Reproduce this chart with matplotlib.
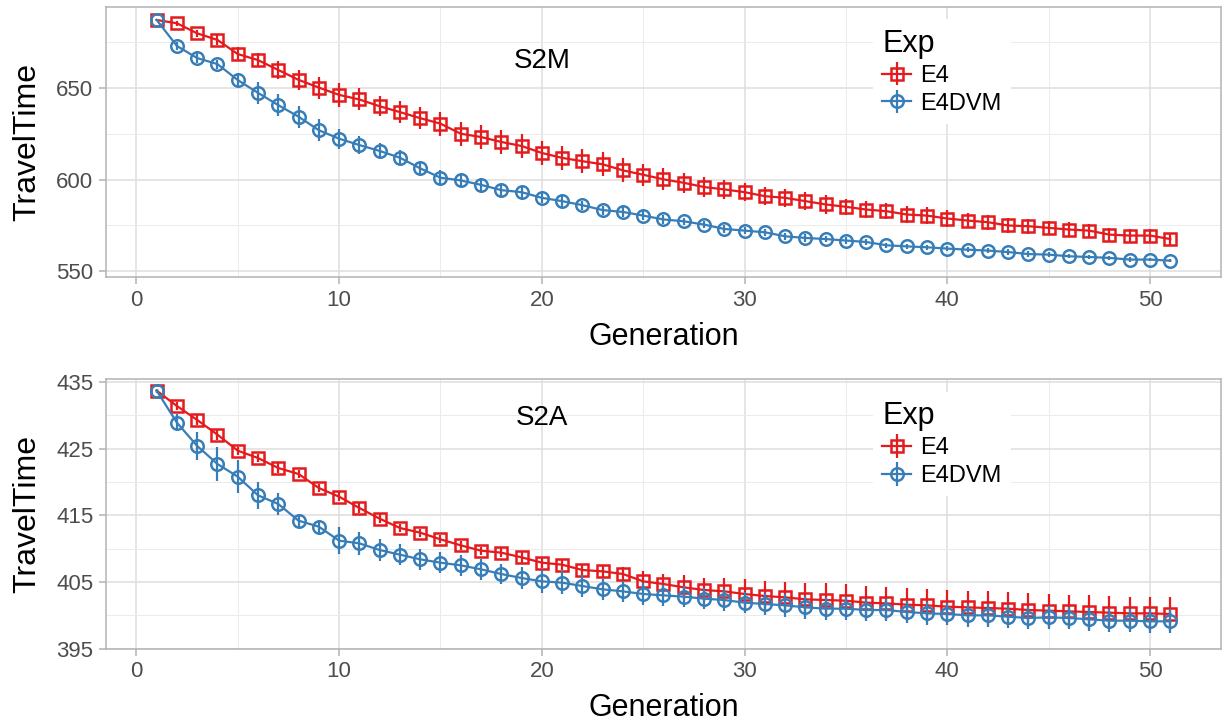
import numpy as np
import matplotlib.pyplot as plt
from matplotlib.ticker import MultipleLocator

plt.rcParams['font.family'] = ['Liberation Sans', 'DejaVu Sans']

gen = np.arange(1, 52)

# S2M panel
s2m_e4 = [687.2, 685.4, 679.9, 676.3, 668.6, 665.3, 659.9, 654.5, 650.3, 646.3,
          643.8, 640.1, 636.9, 633.6, 630.6, 625.1, 623.3, 620.6, 618.4, 614.6,
          611.9, 610.1, 608.4, 605.1, 602.7, 600.2, 598.3, 596.0, 594.7, 593.2,
          591.0, 590.1, 588.3, 586.5, 585.2, 583.7, 582.8, 581.0, 580.4, 578.8,
          577.7, 576.8, 575.0, 574.6, 573.7, 572.8, 572.2, 570.0, 569.5, 569.5, 567.6]
s2m_e4_err = [0.5, 1.5, 2.0, 2.5, 3.8, 4.0, 5.0, 5.5, 6.0, 6.4,
              6.0, 5.5, 6.0, 6.0, 6.5, 6.5, 6.5, 6.5, 6.5, 6.5,
              6.5, 6.5, 6.5, 6.5, 6.0, 6.0, 5.5, 5.5, 5.0, 5.0,
              5.0, 5.0, 5.0, 5.0, 4.5, 4.5, 4.5, 4.5, 4.5, 4.5,
              4.0, 4.0, 4.0, 4.0, 4.0, 4.0, 3.5, 3.5, 3.5, 3.5, 3.5]
s2m_dvm = [687.2, 673.0, 666.4, 663.1, 654.4, 647.4, 640.7, 634.4, 627.0, 622.4,
           618.9, 615.7, 612.0, 606.2, 601.1, 599.6, 597.2, 594.3, 593.2, 590.1,
           588.3, 586.1, 583.4, 582.4, 580.4, 578.3, 577.3, 575.5, 573.1, 572.2,
           571.3, 569.1, 568.2, 567.6, 566.8, 566.0, 564.2, 563.6, 563.1, 562.4,
           561.8, 561.3, 560.5, 559.4, 559.1, 558.2, 557.8, 557.3, 556.4, 556.4, 555.8]
s2m_dvm_err = [0.5, 2.0, 2.5, 2.5, 4.0, 6.0, 6.0, 6.0, 6.0, 5.5,
               5.0, 4.5, 4.0, 3.5, 4.0, 3.5, 3.5, 3.5, 3.5, 3.0,
               3.0, 2.5, 2.5, 2.5, 2.5, 2.5, 2.0, 2.0, 2.0, 2.0,
               2.0, 2.0, 2.0, 1.8, 1.8, 1.8, 1.5, 1.5, 1.5, 1.5,
               1.5, 1.5, 1.5, 1.5, 1.5, 1.2, 1.2, 1.2, 1.2, 1.0, 1.0]

# S2A panel
s2a_e4 = [433.7, 431.4, 429.3, 427.1, 424.7, 423.6, 422.1, 421.2, 419.1, 417.8,
          416.1, 414.5, 413.1, 412.4, 411.4, 410.5, 409.7, 409.4, 408.7, 407.9,
          407.6, 406.8, 406.6, 406.2, 405.1, 404.7, 404.2, 403.8, 403.6, 403.2,
          402.9, 402.7, 402.4, 402.3, 402.2, 401.9, 401.8, 401.6, 401.5, 401.3,
          401.2, 401.1, 401.0, 400.8, 400.7, 400.6, 400.5, 400.4, 400.3, 400.3, 400.2]
s2a_e4_err = [0.3, 0.6, 0.7, 0.8, 0.6, 0.6, 0.7, 0.6, 0.6, 0.7,
              0.7, 0.7, 0.6, 0.6, 0.6, 0.7, 0.6, 0.7, 0.8, 0.8,
              0.8, 0.9, 1.0, 1.0, 1.5, 1.5, 1.8, 1.8, 2.0, 2.2,
              2.3, 2.3, 2.5, 2.5, 2.5, 2.5, 2.5, 2.5, 2.5, 2.5,
              2.5, 2.5, 2.5, 2.5, 2.5, 2.5, 2.5, 2.5, 2.5, 2.5, 2.5]
s2a_dvm = [433.7, 428.9, 425.4, 422.7, 420.8, 418.0, 416.7, 414.2, 413.3, 411.2,
           410.8, 409.8, 409.1, 408.4, 407.9, 407.5, 406.9, 406.2, 405.6, 405.1,
           404.9, 404.4, 403.9, 403.6, 403.2, 403.0, 402.8, 402.5, 402.3, 401.9,
           401.7, 401.5, 401.2, 401.0, 401.0, 400.8, 400.8, 400.5, 400.3, 400.2,
           400.0, 400.0, 399.8, 399.6, 399.7, 399.6, 399.4, 399.2, 399.2, 399.1, 399.1]
s2a_dvm_err = [0.3, 1.3, 2.1, 2.5, 2.5, 2.0, 1.7, 1.0, 1.0, 2.0,
               1.7, 1.7, 1.6, 1.6, 1.6, 1.6, 1.6, 1.5, 1.6, 1.7,
               1.7, 1.6, 1.6, 1.6, 1.6, 1.6, 1.6, 1.6, 1.6, 1.6,
               1.7, 1.7, 1.7, 1.7, 1.7, 1.7, 1.7, 1.7, 1.7, 1.7,
               1.7, 1.7, 1.7, 1.7, 1.7, 1.7, 1.7, 1.7, 1.7, 1.8, 1.8]

panels = [
    ('S2M', s2m_e4, s2m_e4_err, s2m_dvm, s2m_dvm_err, (546.7, 694.3), [550, 600, 650], 25, 665),
    ('S2A', s2a_e4, s2a_e4_err, s2a_dvm, s2a_dvm_err, (395.0, 435.4), [395, 405, 415, 425, 435], 5, 429.6),
]

red = '#E41A1C'
blue = '#377EB8'
grid_c = '#DEDEDE'
border_c = '#B3B3B3'

fig = plt.figure(figsize=(12.28, 7.26), dpi=100)
boxes = [[0.0863, 0.618, 0.908, 0.3724], [0.0863, 0.1065, 0.908, 0.371]]

for box, (name, e4, e4err, dvm, dvmerr, ylim, yt, ymin_step, ty) in zip(boxes, panels):
    ax = fig.add_axes(box)
    c1 = ax.errorbar(gen, e4, yerr=e4err, color=red, marker='s', ms=8.5, mfc='none',
                     mew=1.8, lw=1.6, elinewidth=1.6, capsize=0, label='E4', zorder=3)
    c2 = ax.errorbar(gen, dvm, yerr=dvmerr, color=blue, marker='o', ms=9, mfc='none',
                     mew=1.8, lw=1.6, elinewidth=1.6, capsize=0, label='E4DVM', zorder=4)
    ax.set_xlim(-1.5, 53.5)
    ax.set_ylim(*ylim)
    ax.set_xticks([0, 10, 20, 30, 40, 50])
    ax.xaxis.set_minor_locator(MultipleLocator(5))
    ax.set_yticks(yt)
    ax.yaxis.set_minor_locator(MultipleLocator(ymin_step))
    ax.grid(which='major', color=grid_c, lw=1.1, zorder=0)
    ax.grid(which='minor', color='#EBEBEB', lw=0.7, zorder=0)
    ax.set_axisbelow(True)
    for s in ax.spines.values():
        s.set_color(border_c)
        s.set_linewidth(1.1)
    ax.tick_params(which='major', colors=border_c, labelcolor='#4D4D4D', labelsize=16,
                   length=5, width=1.1, pad=4)
    ax.tick_params(which='minor', length=0)
    ax.set_xlabel('Generation', fontsize=22, labelpad=8)
    ax.set_ylabel('TravelTime', fontsize=23, labelpad=10)
    ax.text(20, ty, name, fontsize=20, ha='center', va='center')
    leg = ax.legend(handles=[c1, c2], title='Exp', loc='upper left',
                    bbox_to_anchor=(0.69, 0.945), frameon=True, fontsize=17,
                    title_fontsize=22, handlelength=1.2, handletextpad=0.4,
                    labelspacing=0.25, borderpad=0.3, borderaxespad=0)
    leg._legend_box.align = 'left'
    leg.get_frame().set_edgecolor('none')
    leg.get_frame().set_facecolor('white')
    leg.get_frame().set_alpha(1)
    leg.get_frame().set_boxstyle('square', pad=0.1)

fig.savefig('out.png', dpi=100)
